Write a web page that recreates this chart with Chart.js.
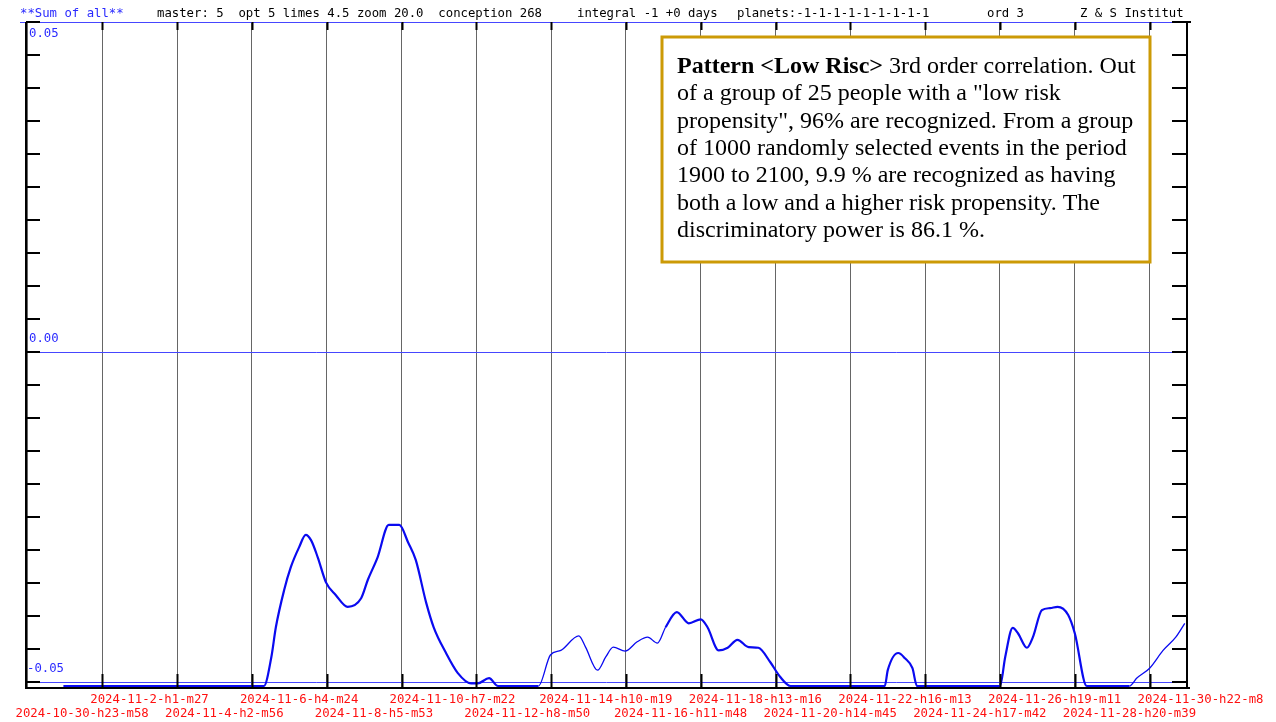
<!DOCTYPE html>
<html>
<head>
<meta charset="utf-8">
<script src="https://cdn.jsdelivr.net/npm/chart.js@4.4.1/dist/chart.umd.min.js"></script>
<style>
  html, body { margin: 0; padding: 0; background: #fff; }
  #wrap { width: 1276px; height: 722px; }
</style>
</head>
<body>
<div id="wrap"><canvas id="sumChart" width="1276" height="722"></canvas></div>
<script>
// one label per vertical grid line (a step is 2 days 1h29m)
const tickLabels = [
    '2024-10-30-h23-m58', '2024-11-2-h1-m27', '2024-11-4-h2-m56', '2024-11-6-h4-m24',
    '2024-11-8-h5-m53', '2024-11-10-h7-m22', '2024-11-12-h8-m50', '2024-11-14-h10-m19',
    '2024-11-16-h11-m48', '2024-11-18-h13-m16', '2024-11-20-h14-m45', '2024-11-22-h16-m13',
    '2024-11-24-h17-m42', '2024-11-26-h19-m11', '2024-11-28-h20-m39', '2024-11-30-h22-m8'
];

// curve position in grid steps
const curveX = [
    0.48, 3.16, 3.26, 3.32, 3.43, 3.52, 3.63, 3.72, 3.79, 3.88, 3.99, 4.12, 4.28, 4.46,
    4.55, 4.68, 4.83, 4.97, 5.09, 5.19, 5.33, 5.43, 5.59, 5.75, 5.93, 6.02, 6.17, 6.29,
    6.83, 6.99, 7.13, 7.37, 7.46, 7.62, 7.73, 7.83, 7.99, 8.15, 8.29, 8.42, 8.53, 8.68,
    8.84, 9.00, 9.09, 9.24, 9.36, 9.49, 9.64, 9.77, 9.93, 10.06, 10.20,
    11.46, 11.50, 11.64, 11.73, 11.83, 11.89,
    13.00, 13.07, 13.17, 13.24, 13.36, 13.44, 13.56, 13.67, 13.77, 13.91, 14.00, 14.16,
    14.73, 14.83, 15.00, 15.18, 15.35, 15.47
];

// sum of all values
const curveY = [
    -0.0506, -0.0506, -0.0462, -0.0417, -0.0361, -0.0326, -0.0296, -0.0277, -0.0285, -0.0311, -0.0349, -0.0368, -0.0386, -0.0373,
    -0.0345, -0.0311, -0.0262, -0.0262, -0.0289, -0.0315, -0.0380, -0.0417, -0.0455, -0.0486, -0.0502, -0.0502, -0.0494, -0.0506,
    -0.0506, -0.0459, -0.0452, -0.0430, -0.0447, -0.0482, -0.0462, -0.0447, -0.0453, -0.0439, -0.0432, -0.0441, -0.0417, -0.0394,
    -0.0411, -0.0405, -0.0417, -0.0452, -0.0448, -0.0436, -0.0447, -0.0448, -0.0470, -0.0492, -0.0506,
    -0.0506, -0.0482, -0.0456, -0.0464, -0.0479, -0.0506,
    -0.0506, -0.0462, -0.0418, -0.0426, -0.0448, -0.0432, -0.0391, -0.0388, -0.0386, -0.0398, -0.0426, -0.0506,
    -0.0506, -0.0494, -0.0479, -0.0452, -0.0432, -0.0411
];

const yLabelValues = [0.05, 0.00, -0.05];
const yBlueLines = [0.00, -0.05];

const headerTitle = '**Sum of all**';
const headerParts = [
    'master: 5  opt 5 limes 4.5 zoom 20.0  conception 268',
    'integral -1 +0 days',
    'planets:-1-1-1-1-1-1-1-1-1',
    'ord 3',
    'Z & S Institut'
];

const noteBold = 'Pattern <Low Risc>';
const noteLines = [
    ' 3rd order correlation. Out',
    'of a group of 25 people with a "low risk',
    'propensity", 96% are recognized. From a group',
    'of 1000 randomly selected events in the period',
    '1900 to 2100, 9.9 % are recognized as having',
    'both a low and a higher risk propensity. The',
    'discriminatory power is 86.1 %.'
];

const MONO = "'DejaVu Sans Mono', monospace";
const BLUE_TEXT = '#2a2aff';
const near = (a, b) => Math.abs(a - b) < 1e-9;

/**
 * Frame, inner tick marks, header, y labels and the note box
 */
const framePlugin = {
    id: 'frame',
    afterDraw(chart) {
        const { ctx, chartArea: a, scales: { x, y } } = chart;
        ctx.save();

        // header line
        ctx.font = `12.3px ${MONO}`;
        ctx.textBaseline = 'middle';
        ctx.textAlign = 'left';
        ctx.fillStyle = BLUE_TEXT;
        ctx.fillText(headerTitle, 20, 14);
        ctx.fillStyle = '#000';
        const headerX = [157, 577, 737, 987, 1080];
        headerParts.forEach((t, i) => ctx.fillText(t, headerX[i], 14));

        ctx.strokeStyle = '#4646ff';
        ctx.lineWidth = 1;
        ctx.beginPath();
        ctx.moveTo(20, a.top + 0.5);
        ctx.lineTo(a.right - 15, a.top + 0.5);
        ctx.stroke();

        // axis frame
        ctx.strokeStyle = '#000';
        ctx.lineWidth = 2;
        ctx.beginPath();
        ctx.moveTo(a.left, a.top);
        ctx.lineTo(a.left, a.bottom);
        ctx.lineTo(a.right + 3, a.bottom);
        ctx.moveTo(a.right, a.bottom);
        ctx.lineTo(a.right, a.top);
        ctx.moveTo(a.right - 15, a.top);
        ctx.lineTo(a.right + 4, a.top);
        ctx.stroke();

        // inner tick marks on left and right
        y.ticks.forEach(t => {
            const py = Math.round(y.getPixelForValue(t.value));
            ctx.beginPath();
            ctx.moveTo(a.left, py);
            ctx.lineTo(a.left + 14, py);
            ctx.moveTo(a.right - 15, py);
            ctx.lineTo(a.right, py);
            ctx.stroke();
        });

        // tick marks at top and bottom of every grid line
        x.ticks.forEach(t => {
            if (t.value < 0.5) return;
            const px = Math.round(x.getPixelForValue(t.value)) + 0.5;
            ctx.beginPath();
            ctx.moveTo(px, a.bottom);
            ctx.lineTo(px, a.bottom - 14);
            ctx.moveTo(px, a.top);
            ctx.lineTo(px, a.top + 8);
            ctx.stroke();
        });

        // y value labels
        ctx.font = `12.3px ${MONO}`;
        ctx.fillStyle = BLUE_TEXT;
        yLabelValues.forEach(v => {
            const py = y.getPixelForValue(v);
            const text = v.toFixed(2);
            const ty = near(v, y.max) ? py + 12 : py - 13;
            ctx.fillText(text, v < 0 ? a.left + 1 : a.left + 3, ty);
        });

        // note box
        const bx = 662, by = 37, bw = 488, bh = 225;
        ctx.fillStyle = '#fff';
        ctx.fillRect(bx, by, bw, bh);
        ctx.strokeStyle = '#cc9a06';
        ctx.lineWidth = 3;
        ctx.strokeRect(bx, by, bw, bh);

        ctx.fillStyle = '#000';
        ctx.textBaseline = 'alphabetic';
        ctx.font = "bold 24px 'Liberation Serif', serif";
        ctx.fillText(noteBold, 677, 73);
        const bw0 = ctx.measureText(noteBold).width;
        ctx.font = "24px 'Liberation Serif', serif";
        noteLines.forEach((line, i) => {
            ctx.fillText(line, i === 0 ? 677 + bw0 : 677, 73 + i * 27.3);
        });

        ctx.restore();
    }
};

const points = curveX.map((xv, i) => ({ x: xv, y: curveY[i] }));

new Chart(document.getElementById('sumChart'), {
    type: 'line',
    data: {
        datasets: [{
            data: points,
            borderColor: '#0a0af0',
            borderWidth: 2.2,
            pointRadius: 0,
            fill: false,
            cubicInterpolationMode: 'monotone',
            segment: {
                borderWidth: c => ((c.p0.parsed.x >= 6.8 && c.p1.parsed.x <= 8.6) || c.p0.parsed.x >= 14.7) ? 1.3 : 2.2
            }
        }]
    },
    options: {
        responsive: false,
        animation: false,
        events: [],
        layout: { padding: { left: 26, top: 22, right: 89, bottom: 0 } },
        plugins: {
            legend: { display: false },
            title: { display: false },
            tooltip: { enabled: false }
        },
        scales: {
            x: {
                type: 'linear',
                min: -0.02,
                max: 15.5,
                border: { display: false },
                grid: { color: '#666', lineWidth: 1, drawTicks: false },
                ticks: {
                    stepSize: 1,
                    includeBounds: false,
                    autoSkip: false,
                    maxRotation: 0,
                    align: 'start',
                    labelOffset: -12,
                    padding: 5,
                    color: '#ff1010',
                    font: { family: MONO, size: 12.3, lineHeight: 1.15 },
                    callback: (v) => {
                        const label = tickLabels[v];
                        if (label === undefined) return '';
                        return v % 2 === 0 ? ['', label] : [label];
                    }
                },
                afterFit: s => { s.height = 34; s.paddingLeft = 0; s.paddingRight = 0; }
            },
            y: {
                min: -0.0509,
                max: 0.05,
                border: { display: false },
                grid: {
                    drawTicks: false,
                    lineWidth: 1,
                    color: c => yBlueLines.some(v => near(v, c.tick.value)) ? '#4646ff' : 'rgba(0,0,0,0)'
                },
                ticks: { display: false, stepSize: 0.005, includeBounds: false },
                afterFit: s => { s.width = 0; }
            }
        }
    },
    plugins: [framePlugin]
});
</script>
</body>
</html>
